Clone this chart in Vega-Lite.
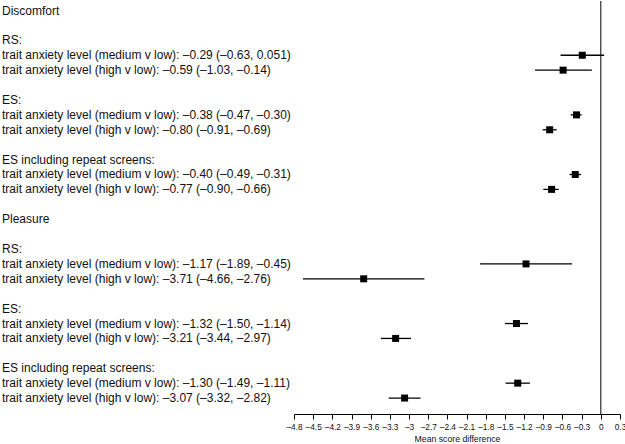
{
  "$schema": "https://vega.github.io/schema/vega-lite/v6.json",
  "padding": {"left": 2, "top": 0, "right": 5, "bottom": 0},
  "background": "white",
  "config": {"view": {"stroke": null}, "font": "Liberation Sans"},
  "spacing": 0,
  "bounds": "flush",
  "datasets": {
    "labels": [
      {"slot": 0, "label": "Discomfort"},
      {"slot": 2, "label": "RS:"},
      {"slot": 3, "label": "trait anxiety level (medium v low): –0.29 (–0.63, 0.051)"},
      {"slot": 4, "label": "trait anxiety level (high v low): –0.59 (–1.03, –0.14)"},
      {"slot": 6, "label": "ES:"},
      {"slot": 7, "label": "trait anxiety level (medium v low): –0.38 (–0.47, –0.30)"},
      {"slot": 8, "label": "trait anxiety level (high v low): –0.80 (–0.91, –0.69)"},
      {"slot": 10, "label": "ES including repeat screens:"},
      {"slot": 11, "label": "trait anxiety level (medium v low): –0.40 (–0.49, –0.31)"},
      {"slot": 12, "label": "trait anxiety level (high v low): –0.77 (–0.90, –0.66)"},
      {"slot": 14, "label": "Pleasure"},
      {"slot": 16, "label": "RS:"},
      {"slot": 17, "label": "trait anxiety level (medium v low): –1.17 (–1.89, –0.45)"},
      {"slot": 18, "label": "trait anxiety level (high v low): –3.71 (–4.66, –2.76)"},
      {"slot": 20, "label": "ES:"},
      {"slot": 21, "label": "trait anxiety level (medium v low): –1.32 (–1.50, –1.14)"},
      {"slot": 22, "label": "trait anxiety level (high v low): –3.21 (–3.44, –2.97)"},
      {"slot": 24, "label": "ES including repeat screens:"},
      {"slot": 25, "label": "trait anxiety level (medium v low): –1.30 (–1.49, –1.11)"},
      {"slot": 26, "label": "trait anxiety level (high v low): –3.07 (–3.32, –2.82)"}
    ],
    "estimates": [
      {"slot": 3, "est": -0.29, "lo": -0.63, "hi": 0.051},
      {"slot": 4, "est": -0.59, "lo": -1.03, "hi": -0.14},
      {"slot": 7, "est": -0.38, "lo": -0.47, "hi": -0.30},
      {"slot": 8, "est": -0.80, "lo": -0.91, "hi": -0.69},
      {"slot": 11, "est": -0.40, "lo": -0.49, "hi": -0.31},
      {"slot": 12, "est": -0.77, "lo": -0.90, "hi": -0.66},
      {"slot": 17, "est": -1.17, "lo": -1.89, "hi": -0.45},
      {"slot": 18, "est": -3.71, "lo": -4.66, "hi": -2.76},
      {"slot": 21, "est": -1.32, "lo": -1.50, "hi": -1.14},
      {"slot": 22, "est": -3.21, "lo": -3.44, "hi": -2.97},
      {"slot": 25, "est": -1.30, "lo": -1.49, "hi": -1.11},
      {"slot": 26, "est": -3.07, "lo": -3.32, "hi": -2.82}
    ]
  },
  "hconcat": [
    {
      "width": 291.5,
      "height": 413,
      "data": {"name": "labels"},
      "mark": {"type": "text", "align": "left", "baseline": "middle", "fontSize": 12, "color": "#111"},
      "encoding": {
        "x": {"datum": 0, "type": "quantitative", "scale": {"domain": [0, 1]}, "axis": null},
        "y": {"field": "slot", "type": "quantitative", "scale": {"domain": [-0.64, 27.07], "reverse": true, "nice": false, "zero": false}, "axis": null},
        "text": {"field": "label"}
      }
    },
    {
      "width": 326,
      "height": 413,
      "layer": [
        {
          "data": {"values": [{"ref": 0}]},
          "mark": {"type": "rule", "color": "black", "strokeWidth": 1},
          "encoding": {
            "x": {"field": "ref", "type": "quantitative"}
          }
        },
        {
          "data": {"name": "estimates"},
          "mark": {"type": "rule", "color": "black", "strokeWidth": 1.3},
          "encoding": {
            "x": {"field": "lo", "type": "quantitative"},
            "x2": {"field": "hi"},
            "y": {"field": "slot", "type": "quantitative"}
          }
        },
        {
          "data": {"name": "estimates"},
          "mark": {"type": "square", "color": "black", "opacity": 1, "size": 49, "filled": true},
          "encoding": {
            "x": {"field": "est", "type": "quantitative"},
            "y": {"field": "slot", "type": "quantitative"}
          }
        }
      ],
      "encoding": {
        "x": {
          "type": "quantitative",
          "scale": {"domain": [-4.8, 0.3], "nice": false, "zero": false},
          "axis": {
            "title": "Mean score difference",
            "values": [-4.8, -4.5, -4.2, -3.9, -3.6, -3.3, -3, -2.7, -2.4, -2.1, -1.8, -1.5, -1.2, -0.9, -0.6, -0.3, 0, 0.3],
            "labelExpr": "replace(format(datum.value, '.1~f'), '−', '–')",
            "grid": false,
            "domainColor": "black",
            "tickColor": "black",
            "tickSize": 5,
            "labelFontSize": 8.3,
            "labelColor": "#111",
            "labelPadding": 3,
            "labelFont": "Liberation Sans",
            "labelOverlap": false,
            "labelFlush": false,
            "labelBound": false,
            "titleFontSize": 8.7,
            "titleFontWeight": "normal",
            "titleColor": "#111",
            "titleFont": "Liberation Sans",
            "titlePadding": 4
          }
        },
        "y": {
          "type": "quantitative",
          "scale": {"domain": [-0.64, 27.07], "reverse": true, "nice": false, "zero": false},
          "axis": null
        }
      }
    }
  ]
}
